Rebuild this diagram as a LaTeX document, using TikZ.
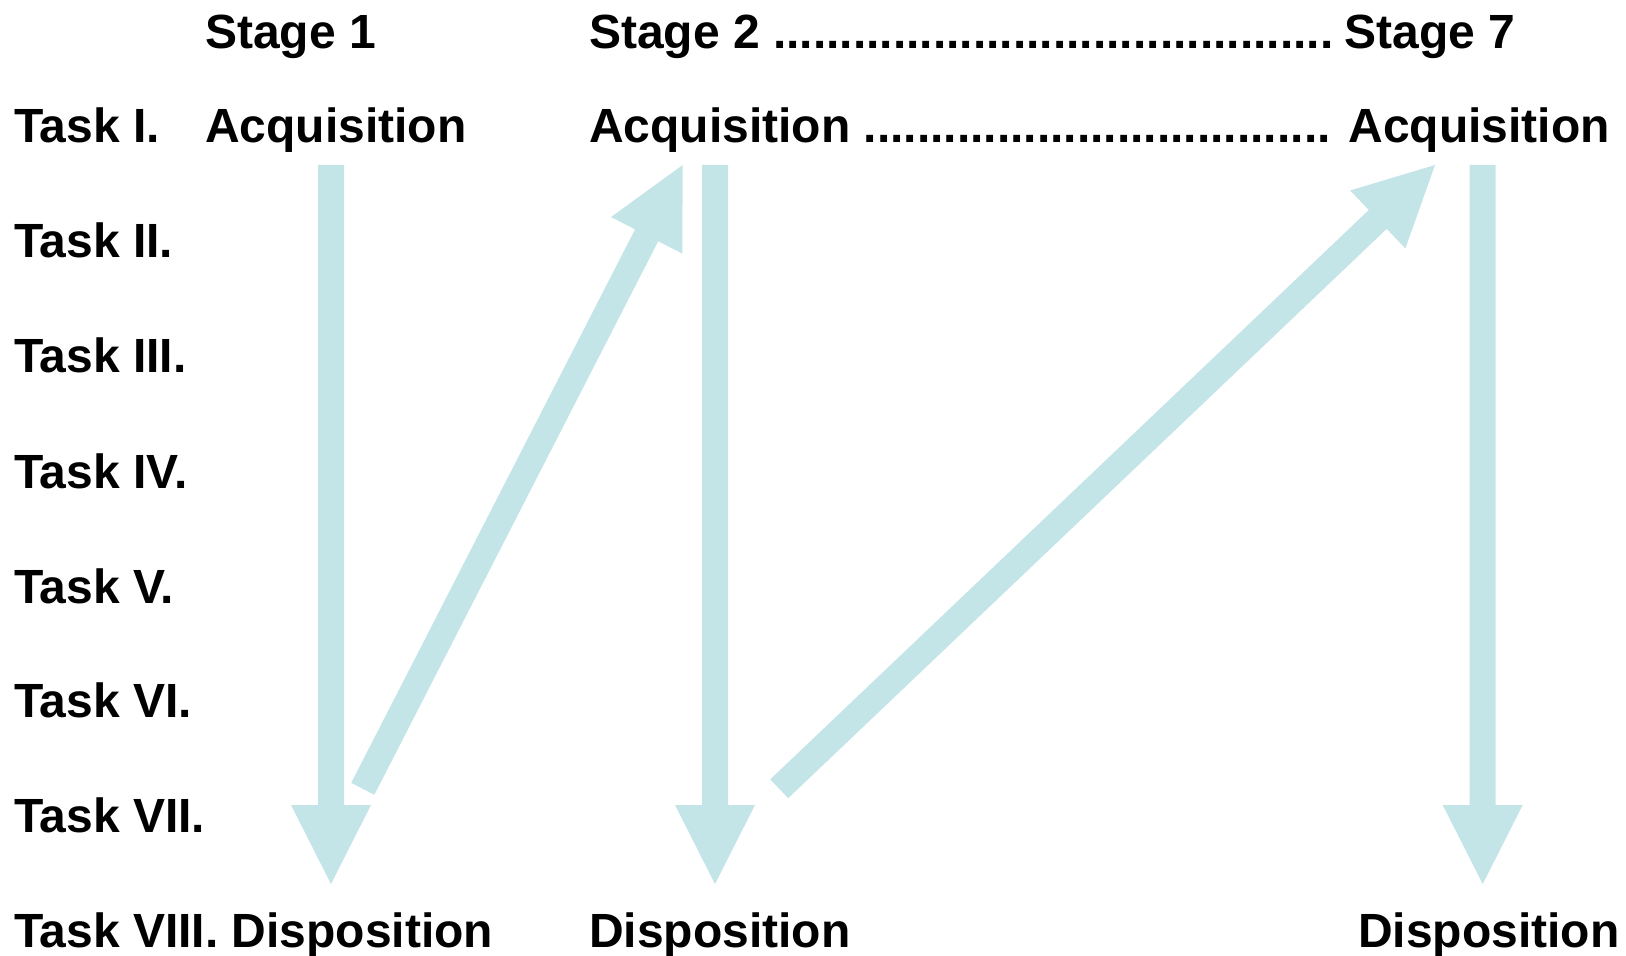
\documentclass[tikz,border=0pt]{standalone}
\usepackage{fontspec}
\setmainfont{Liberation Sans}
\usetikzlibrary{calc}

\definecolor{flow}{RGB}{196,229,231}

% Block arrow between two named points: shaft 26px, head 80px wide, 79px long
\newcommand\blockarrow[2]{%
  \fill[flow]
    ($(#1)!6.5pt!90:(#2)$) --
    ($($(#2)!39.5pt!(#1)$)!6.5pt!-90:(#1)$) --
    ($($(#2)!39.5pt!(#1)$)!20pt!-90:(#1)$) --
    (#2) --
    ($($(#2)!39.5pt!(#1)$)!20pt!90:(#1)$) --
    ($($(#2)!39.5pt!(#1)$)!6.5pt!90:(#1)$) --
    ($(#1)!6.5pt!-90:(#2)$) -- cycle;}

\begin{document}
\begin{tikzpicture}[x=0.5pt,y=-0.5pt,
  lbl/.style={anchor=base west,inner sep=0pt,outer sep=0pt,
    font=\fontsize{24}{28}\selectfont\bfseries}]
\useasboundingbox[fill=white] (0,0) rectangle (1626,956);

% stage headings
\node[lbl] (stage1) at (205,49) {Stage 1};
\node[lbl] (stagen) at (589,49) {Stage 2 ..........................................\hspace{5.5pt}Stage 7};

% task rows
\node[lbl] (t1) at (14,143) {Task I.};
\node[lbl] (t2) at (14,258) {Task II.};
\node[lbl] (t3) at (14,373) {Task III.};
\node[lbl] (t4) at (14,488) {Task IV.};
\node[lbl] (t5) at (14,603) {Task V.};
\node[lbl] (t6) at (14,717) {Task VI.};
\node[lbl] (t7) at (14,832) {Task VII.};
\node[lbl] (t8) at (14,947) {Task VIII. Disposition};

% acquisition and disposition labels
\node[lbl] (acq1) at (205,143) {Acquisition};
\node[lbl] (acqn) at (589,143) {Acquisition ................................... Acquisition};
\node[lbl] (disp2) at (589,947) {Disposition};
\node[lbl] (disp7) at (1358,947) {Disposition};

% arrow end points
\coordinate (s1top) at (331,165);
\coordinate (s1bot) at (331,884);
\coordinate (s2top) at (715,165);
\coordinate (s2bot) at (715,884);
\coordinate (s7top) at (1482.7,165);
\coordinate (s7bot) at (1482.7,884);
\coordinate (j1tail) at (362.8,788.8);
\coordinate (j1tip) at (682.7,165);
\coordinate (j2tail) at (779.2,788.8);
\coordinate (j2tip) at (1435,165);

% acquisition to disposition within each stage
\blockarrow{s1top}{s1bot}
\blockarrow{s2top}{s2bot}
\blockarrow{s7top}{s7bot}
% hand-over to the next stage
\blockarrow{j1tail}{j1tip}
\blockarrow{j2tail}{j2tip}
\end{tikzpicture}
\end{document}
